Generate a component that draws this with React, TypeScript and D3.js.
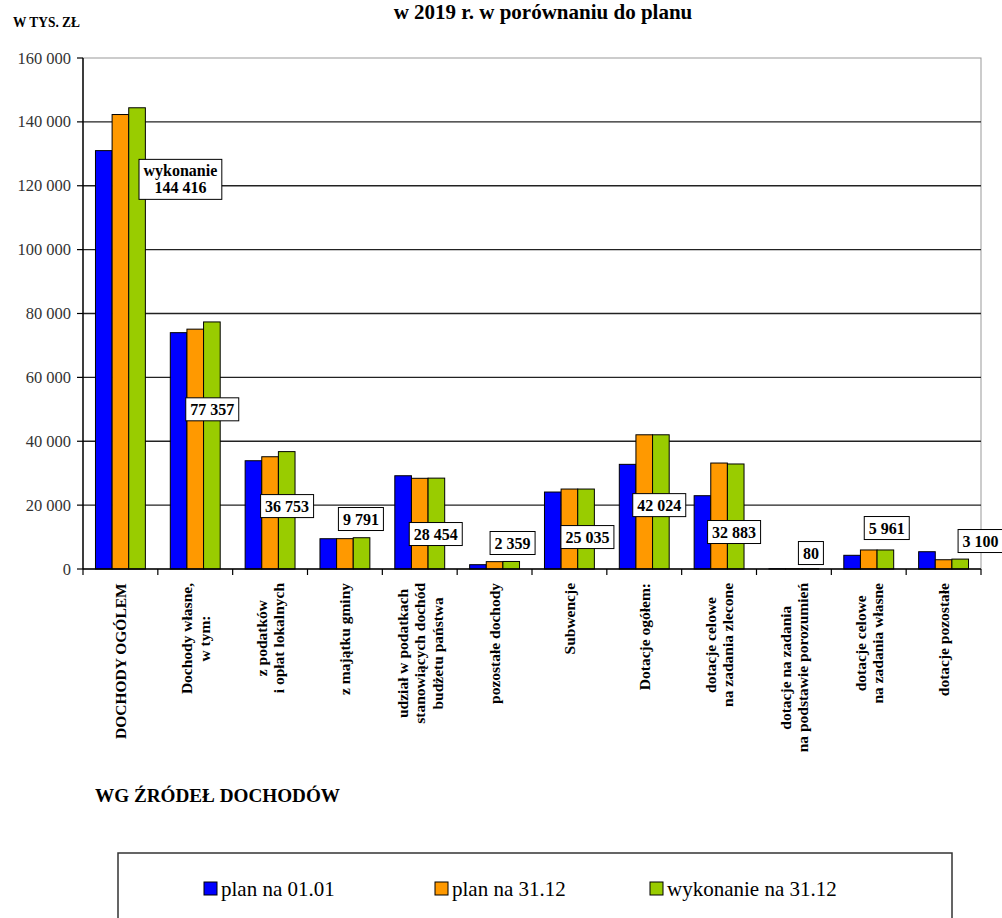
import * as d3 from "d3";

// kategorie (oś X), linie rozdzielone \n
const categories = [
  "DOCHODY OGÓLEM",
  "Dochody własne,\nw tym:",
  "z podatków\ni opłat lokalnych",
  "z majątku gminy",
  "udział w podatkach\nstanowiących dochód\nbudżetu państwa",
  "pozostałe dochody",
  "Subwencje",
  "Dotacje ogółem:",
  "dotacje celowe\nna zadania zlecone",
  "dotacje na zadania\nna podstawie porozumień",
  "dotacje celowe\nna zadania własne",
  "dotacje pozostałe",
];

const seriesNames = ["plan na 01.01", "plan na 31.12", "wykonanie na 31.12"];
const seriesColors = ["#0000FF", "#FF9900", "#99CC00"];

const planStart = [131000, 74000, 33900, 9480, 29200, 1350, 24100, 32770, 22950, 80, 4290, 5410];
const planEnd = [142300, 75100, 35150, 9500, 28400, 2300, 25035, 42024, 33180, 80, 5961, 2900];
const wykonanie = [144416, 77357, 36753, 9791, 28454, 2359, 25035, 42024, 32883, 80, 5961, 3100];

const yTicks = [0, 20000, 40000, 60000, 80000, 100000, 120000, 140000, 160000];

// where each value box sits: [px offset from category centre, height in data units]
const labelPlacement: [number, number][] = [
  [60, 122000], [17, 50000], [17, 19700], [16, 15650], [16, 10950], [18, 8140],
  [18, 10000], [15, 20000], [15, 11580], [17, 5000], [18, 12830], [37, 8760],
];

const W = 1002;
const H = 918;
const plot = { left: 83, right: 981, top: 58, bottom: 569 };

const serif = "'Liberation Serif', 'Times New Roman', serif";

let ctx: CanvasRenderingContext2D | null = null;
function textWidth(s: string, font: string) {
  if (!ctx) ctx = document.createElement("canvas").getContext("2d");
  if (!ctx) return s.length * 8;
  ctx.font = font;
  return ctx.measureText(s).width;
}

const fmt = (v: number) => d3.format(",")(v).replace(/,/g, " ");

export default function App() {
  const series = [planStart, planEnd, wykonanie];

  const x0 = d3.scaleBand<number>()
    .domain(d3.range(categories.length))
    .range([plot.left, plot.right])
    .padding(0);

  const x1 = d3.scaleBand<number>()
    .domain(d3.range(series.length))
    .range([0, x0.bandwidth()])
    .paddingInner(0)
    .paddingOuter(0.75);

  const y = d3.scaleLinear().domain([0, 160000]).range([plot.bottom, plot.top]);

  const catFont = `bold 15.5px ${serif}`;
  const valFont = `bold 16px ${serif}`;

  const boundaries = d3.range(categories.length + 1).map((i) =>
    i < categories.length ? x0(i)! : plot.right
  );

  return (
    <div style={{ position: "absolute", left: 0, top: 0 }}>
      <svg width={W} height={H} style={{ display: "block", background: "#fff" }}>
        {/* title (first line is off the top in the source) */}
        <text
          x={543}
          y={19}
          textAnchor="middle"
          fontFamily={serif}
          fontWeight="bold"
          fontSize={21}
        >
          w 2019 r. w porównaniu do planu
        </text>
        <text x={13} y={27} fontFamily={serif} fontWeight="bold" fontSize={14} textLength={67} lengthAdjust="spacingAndGlyphs">
          W TYS. ZŁ
        </text>

        {/* plot border */}
        <rect
          x={plot.left}
          y={plot.top}
          width={plot.right - plot.left}
          height={plot.bottom - plot.top}
          fill="none"
          stroke="#999"
          strokeWidth={1}
        />

        {/* gridlines */}
        {yTicks.slice(1, -1).map((t) => (
          <line
            key={t}
            x1={plot.left}
            x2={plot.right}
            y1={y(t)}
            y2={y(t)}
            stroke="#222"
            strokeWidth={1.4}
          />
        ))}

        {/* bars */}
        {categories.map((_, ci) => (
          <g key={ci} transform={`translate(${x0(ci)},0)`}>
            {series.map((s, si) => (
              <rect
                key={si}
                x={x1(si)}
                y={y(s[ci])}
                width={x1.bandwidth()}
                height={y(0) - y(s[ci])}
                fill={seriesColors[si]}
                stroke="#000"
                strokeWidth={1}
              />
            ))}
          </g>
        ))}

        {/* y axis */}
        <line x1={plot.left} x2={plot.left} y1={plot.top} y2={plot.bottom} stroke="#000" strokeWidth={1.4} />
        {yTicks.map((t) => (
          <g key={t}>
            <line x1={plot.left - 6} x2={plot.left} y1={y(t)} y2={y(t)} stroke="#000" strokeWidth={1.2} />
            <text
              x={71}
              y={y(t)}
              textAnchor="end"
              dominantBaseline="central"
              fontFamily={serif}
              fontSize={16.5}
              fill="#333"
            >
              {fmt(t)}
            </text>
          </g>
        ))}

        {/* x axis */}
        <line x1={plot.left} x2={plot.right} y1={plot.bottom} y2={plot.bottom} stroke="#000" strokeWidth={1.4} />
        {boundaries.map((bx, i) => (
          <line key={i} x1={bx} x2={bx} y1={plot.bottom} y2={plot.bottom + 6} stroke="#000" strokeWidth={1.2} />
        ))}

        {/* category labels, rotated */}
        {categories.map((c, ci) => {
          const lines = c.split("\n");
          const maxW = d3.max(lines, (l) => textWidth(l, catFont)) || 0;
          const cx = x0(ci)! + x0.bandwidth() / 2;
          return (
            <g key={ci} transform={`translate(${cx},583) rotate(-90)`}>
              {lines.map((l, li) => (
                <text
                  key={li}
                  x={-maxW / 2}
                  y={(li - (lines.length - 1) / 2) * 17.5}
                  textAnchor="middle"
                  dominantBaseline="central"
                  fontFamily={serif}
                  fontWeight="bold"
                  fontSize={15.5}
                >
                  {l}
                </text>
              ))}
            </g>
          );
        })}

        {/* value boxes */}
        {wykonanie.map((v, ci) => {
          const lines = ci === 0 ? ["wykonanie", fmt(v)] : [fmt(v)];
          const [dx, yv] = labelPlacement[ci];
          const cx = x0(ci)! + x0.bandwidth() / 2 + dx;
          const cy = y(yv);
          const bw = (d3.max(lines, (l) => textWidth(l, valFont)) || 0) + 9;
          const bh = lines.length * 17 + 6;
          return (
            <g key={ci}>
              <rect
                x={cx - bw / 2}
                y={cy - bh / 2}
                width={bw}
                height={bh}
                fill="#fff"
                stroke="#000"
                strokeWidth={1}
              />
              {lines.map((l, li) => (
                <text
                  key={li}
                  x={cx}
                  y={cy + (li - (lines.length - 1) / 2) * 17}
                  textAnchor="middle"
                  dominantBaseline="central"
                  fontFamily={serif}
                  fontWeight="bold"
                  fontSize={16}
                >
                  {l}
                </text>
              ))}
            </g>
          );
        })}

        {/* x axis title */}
        <text x={95} y={802} fontFamily={serif} fontWeight="bold" fontSize={19} textLength={245} lengthAdjust="spacingAndGlyphs">
          WG ŹRÓDEŁ DOCHODÓW
        </text>

        {/* legend */}
        <rect x={118} y={853} width={834} height={90} fill="#fff" stroke="#333" strokeWidth={1.5} />
        {seriesNames.map((name, si) => {
          const lx = [204, 435, 650][si];
          return (
            <g key={name}>
              <rect x={lx} y={882} width={13} height={13} fill={seriesColors[si]} stroke="#000" strokeWidth={1} />
              <text x={lx + 17} y={896} fontFamily={serif} fontSize={21}>
                {name}
              </text>
            </g>
          );
        })}
      </svg>
    </div>
  );
}
